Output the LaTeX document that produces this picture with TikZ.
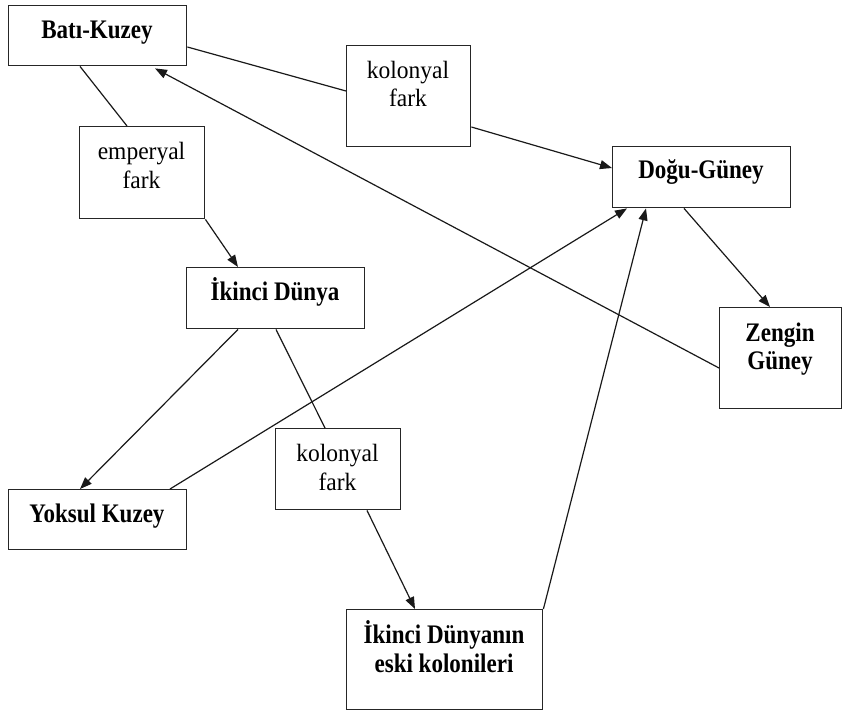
\documentclass[tikz,border=0pt]{standalone}
\usepackage{fontspec}
\setmainfont{Liberation Serif}
\usetikzlibrary{arrows.meta,calc}
\newcommand{\bt}[1]{\scalebox{0.98}[1.14]{\bfseries #1}}
\newcommand{\rt}[1]{\scalebox{1}[1.06]{#1}}
\begin{document}
\begin{tikzpicture}[x=1pt,y=-1pt,
  box/.style={draw=black!85,line width=1.4pt,fill=white,inner sep=0pt,anchor=north west},
  lbl/.style={anchor=base,inner sep=0pt,font=\fontsize{23.5}{27}\selectfont},
  con/.style={draw=black!90,line width=1.2pt},
  arr/.style={con,-{Triangle[length=12pt,width=9pt]}}]
\useasboundingbox (0,0) rectangle (843,713);
% boxes
\node[box,minimum width=178pt,minimum height=60pt] (bk) at (8,5) {};
\node[box,minimum width=124pt,minimum height=101pt] (kf1) at (346,45) {};
\node[box,minimum width=178pt,minimum height=61pt] (dg) at (612,146) {};
\node[box,minimum width=125pt,minimum height=92pt] (ef) at (79,126) {};
\node[box,minimum width=178pt,minimum height=61pt] (id) at (186,267) {};
\node[box,minimum width=122pt,minimum height=101pt] (zg) at (719,307) {};
\node[box,minimum width=125pt,minimum height=81pt] (kf2) at (275,428) {};
\node[box,minimum width=178pt,minimum height=60pt] (yk) at (8,489) {};
\node[box,minimum width=196pt,minimum height=100pt] (ek) at (346,609) {};
% texts
\node[lbl] (bkt) at (97,38) {\bt{Batı-Kuzey}};
\node[lbl] (kf1a) at (408,78) {\rt{kolonyal}};
\node[lbl] (kf1b) at (408,106) {\rt{fark}};
\node[lbl] (dgt) at (701,178) {\bt{Doğu-Güney}};
\node[lbl] (efa) at (141.5,159) {\rt{emperyal}};
\node[lbl] (efb) at (141.5,188) {\rt{fark}};
\node[lbl] (idt) at (275,300) {\bt{İkinci Dünya}};
\node[lbl] (zga) at (780,341) {\bt{Zengin}};
\node[lbl] (zgb) at (780,369) {\bt{Güney}};
\node[lbl] (kf2a) at (337.5,461) {\rt{kolonyal}};
\node[lbl] (kf2b) at (337.5,490) {\rt{fark}};
\node[lbl] (ykt) at (97,522) {\bt{Yoksul Kuzey}};
\node[lbl] (eka) at (444,643) {\bt{İkinci Dünyanın}};
\node[lbl] (ekb) at (444,672) {\bt{eski kolonileri}};
% connectors
\draw[con] ($(bk.north east)+(0,42)$) -- ($(kf1.north west)+(0,46)$);
\draw[arr] ($(kf1.north east)+(0,82)$) -- ($(dg.north west)+(0,22)$);
\draw[con] ($(bk.south west)+(72,0)$) -- ($(ef.north west)+(48,0)$);
\draw[arr] (ef.south east) -- ($(id.north west)+(52,0)$);
\draw[arr] ($(id.south west)+(52,0)$) -- ($(yk.north west)+(72,0)$);
\draw[con] ($(id.south west)+(90,0)$) -- ($(kf2.north west)+(50,0)$);
\draw[arr] ($(kf2.south west)+(92,0)$) -- ($(ek.north west)+(69,0)$);
\draw[arr] ($(yk.north west)+(162,0)$) -- ($(dg.south west)+(15,0)$);
\draw[arr] (ek.north east) -- ($(dg.south west)+(34,0)$);
\draw[arr] ($(dg.south west)+(72,0)$) -- ($(zg.north west)+(51,0)$);
\draw[arr] ($(zg.north west)+(0,61)$) -- ($(bk.south west)+(147,2)$);
\end{tikzpicture}
\end{document}
